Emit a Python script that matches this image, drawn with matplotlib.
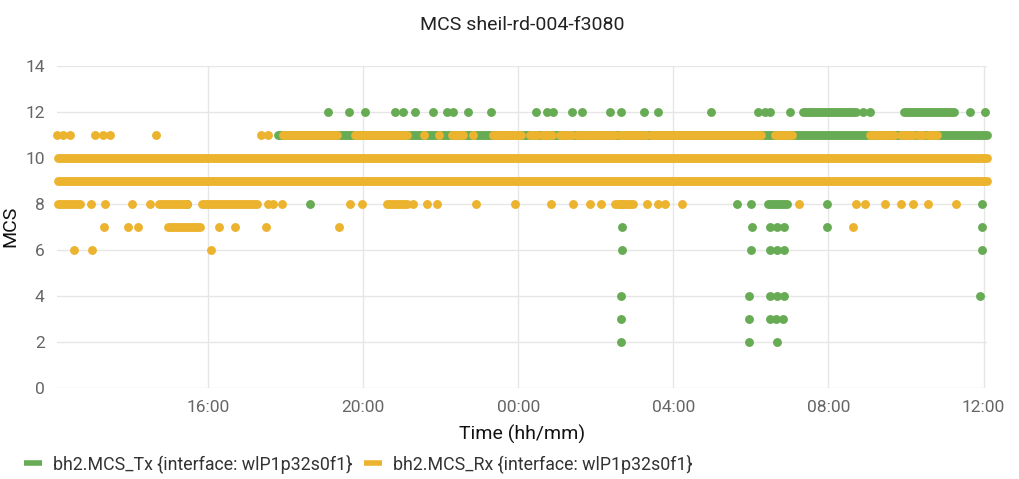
import matplotlib
matplotlib.use("Agg")
import matplotlib.pyplot as plt
from matplotlib.lines import Line2D

plt.rcParams['font.family'] = ['Roboto', 'DejaVu Sans']

# all times are hours after 12:00 on the first day
TITLE = "MCS sheil-rd-004-f3080"
TX_LABEL = "bh2.MCS_Tx {interface: wlP1p32s0f1}"
RX_LABEL = "bh2.MCS_Rx {interface: wlP1p32s0f1}"

tick_hours = [4, 8, 12, 16, 20, 24]
tick_labels = ["16:00", "20:00", "00:00", "04:00", "08:00", "12:00"]

# dense stretches of samples, (mcs, start, end)
tx_runs = [
    (11, 5.81, 24.08),
    (12, 19.35, 20.70),
    (12, 21.94, 23.23),
    (8, 18.45, 18.92),
]
rx_runs = [
    (10, 0.13, 24.08),
    (9, 0.13, 24.08),
    (11, 5.94, 7.33), (11, 7.79, 9.14), (11, 10.30, 10.58), (11, 11.35, 12.08),
    (11, 12.31, 12.49), (11, 12.62, 12.88), (11, 13.08, 13.39), (11, 13.52, 14.50),
    (11, 14.61, 15.30), (11, 15.41, 18.25), (11, 18.63, 19.07), (11, 21.08, 21.68),
    (11, 21.86, 22.17), (11, 22.32, 22.43), (11, 22.58, 22.81),
    (8, 0.13, 0.70), (8, 2.74, 3.46), (8, 3.85, 5.26), (8, 8.62, 9.14),
    (8, 14.50, 14.97),
    (7, 2.97, 3.79),
]

# single samples per MCS value
tx_points = {
    12: [7.10, 7.64, 8.05, 8.83, 9.03, 9.34, 9.81, 10.17, 10.32, 10.71, 11.30,
         12.46, 12.75, 12.90, 13.39, 13.63, 14.37, 14.66, 15.23, 15.59, 16.98,
         18.19, 18.35, 18.50, 19.02, 20.88, 21.08, 23.66, 24.05],
    8: [3.46, 6.63, 14.71, 17.63, 18.01, 19.95, 23.95],
    7: [14.68, 18.04, 18.48, 18.68, 18.86, 19.95, 23.95],
    6: [14.68, 17.99, 18.48, 18.68, 18.86, 23.95],
    4: [14.66, 17.96, 18.48, 18.68, 18.86, 23.92],
    3: [14.66, 17.96, 18.48, 18.64, 18.82],
    2: [14.66, 17.96, 18.68],
}
rx_points = {
    11: [0.10, 0.26, 0.44, 1.08, 1.29, 1.47, 2.66, 5.37, 5.55, 9.57, 9.94,
         10.84, 11.79, 11.92],
    8: [0.98, 1.34, 2.04, 2.50, 5.55, 5.68, 5.91, 7.66, 7.97, 9.29, 9.65, 9.91,
        10.92, 11.92, 12.85, 13.42, 13.86, 14.12, 15.33, 15.59, 15.79, 16.23,
        19.23, 20.70, 20.95, 21.47, 21.86, 22.19, 22.58, 23.30],
    7: [1.32, 1.94, 2.19, 4.28, 4.70, 5.50, 7.38, 20.62],
    6: [0.54, 1.01, 4.08],
}

GREEN = "#67ab55"
YELLOW = "#ecb32e"
DOT = 6.4

fig = plt.figure(figsize=(10.19, 4.79), dpi=100)
ax = fig.add_axes([0.056, 0.191, 0.913, 0.672])


def draw(runs, points, color):
    for mcs, start, end in runs:
        ax.plot([start, end], [mcs, mcs], color=color, lw=DOT,
                solid_capstyle='round', clip_on=False, zorder=3)
    for mcs, hours in points.items():
        ax.plot(hours, [mcs] * len(hours), 'o', color=color, ms=DOT,
                mec='none', clip_on=False, zorder=3)


draw(tx_runs, tx_points, GREEN)
draw(rx_runs, rx_points, YELLOW)

ax.set_xlim(0.10, 24.10)
ax.set_ylim(0, 14)
ax.set_yticks(range(0, 15, 2))
ax.set_xticks(tick_hours)
ax.set_xticklabels(tick_labels)
ax.grid(True, color="#e6e6e6", lw=1)
ax.set_axisbelow(True)
for s in ax.spines.values():
    s.set_visible(False)
ax.tick_params(length=0, colors="#666666", labelsize=12.5)
ax.tick_params(axis='y', pad=9)
ax.tick_params(axis='x', pad=9)

ax.set_title(TITLE, fontsize=14, color="#222222", pad=26)
ax.set_ylabel("MCS", fontsize=14, color="#111111", labelpad=4)
ax.set_xlabel("Time (hh/mm)", fontsize=14, color="#111111", labelpad=7)

handles = [Line2D([], [], color=GREEN, lw=4, solid_capstyle='butt'),
           Line2D([], [], color=YELLOW, lw=4, solid_capstyle='butt')]
fig.legend(handles, [TX_LABEL, RX_LABEL], loc='lower left',
           bbox_to_anchor=(0.008, -0.022), ncol=2, frameon=False,
           fontsize=12.8, handlelength=1.0, handletextpad=0.6, columnspacing=0.7,
           labelcolor="#333333")

fig.savefig("out.png", dpi=100)
